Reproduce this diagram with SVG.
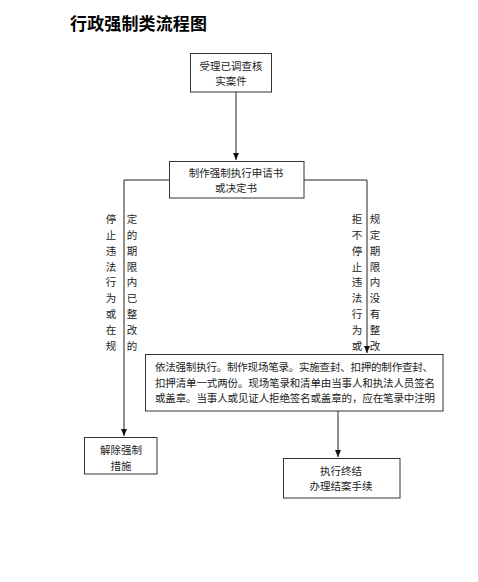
<svg xmlns="http://www.w3.org/2000/svg" width="478" height="582" viewBox="0 0 478 582">
<style>
.t{font-family:"Noto Sans CJK SC","Noto Sans CJK JP",sans-serif;font-size:10.5px;fill:#222}
.c{text-anchor:middle}
.title{font-family:"Noto Sans CJK SC",sans-serif;font-size:17px;font-weight:bold;fill:#000}
.box{fill:#fff;stroke:#333;stroke-width:1}
.ln{fill:none;stroke:#222;stroke-width:1}
</style>
<defs>
<marker id="ah" markerWidth="8" markerHeight="8" refX="7" refY="4" orient="auto" markerUnits="userSpaceOnUse">
<path d="M0,1 L7,4 L0,7 Z" fill="#111"/>
</marker>
</defs>
<rect width="478" height="582" fill="#fff"/>
<text class="title" x="70" y="30" textLength="137">行政强制类流程图</text>
<g id="connectors">
<line class="ln" x1="236" y1="92" x2="236" y2="160" marker-end="url(#ah)"/>
<polyline class="ln" points="169,180 124,180 124,436" marker-end="url(#ah)"/>
<polyline class="ln" points="304,180 367,180 367,353" marker-end="url(#ah)"/>
<line class="ln" x1="338" y1="411" x2="338" y2="457" marker-end="url(#ah)"/>
</g>
<g id="n1">
<rect class="box" x="190.5" y="53.5" width="81" height="38.5"/>
<text class="t c" x="231" y="70">受理已调查核</text>
<text class="t c" x="231" y="85">实案件</text>
</g>
<g id="n2">
<rect class="box" x="169.5" y="161.5" width="134.5" height="36.5"/>
<text class="t c" x="236" y="177">制作强制执行申请书</text>
<text class="t c" x="236" y="192">或决定书</text>
</g>
<g id="lbl-left">
<text class="t c" x="111" y="223">停</text>
<text class="t c" x="111" y="239">止</text>
<text class="t c" x="111" y="255">违</text>
<text class="t c" x="111" y="271">法</text>
<text class="t c" x="111" y="286">行</text>
<text class="t c" x="111" y="302">为</text>
<text class="t c" x="111" y="318">或</text>
<text class="t c" x="111" y="334">在</text>
<text class="t c" x="111" y="350">规</text>
<text class="t c" x="132" y="223">定</text>
<text class="t c" x="132" y="239">的</text>
<text class="t c" x="132" y="255">期</text>
<text class="t c" x="132" y="271">限</text>
<text class="t c" x="132" y="286">内</text>
<text class="t c" x="132" y="302">已</text>
<text class="t c" x="132" y="318">整</text>
<text class="t c" x="132" y="334">改</text>
<text class="t c" x="132" y="350">的</text>
</g>
<g id="lbl-right">
<text class="t c" x="357" y="223">拒</text>
<text class="t c" x="357" y="239">不</text>
<text class="t c" x="357" y="255">停</text>
<text class="t c" x="357" y="271">止</text>
<text class="t c" x="357" y="286">违</text>
<text class="t c" x="357" y="302">法</text>
<text class="t c" x="357" y="318">行</text>
<text class="t c" x="357" y="334">为</text>
<text class="t c" x="357" y="350">或</text>
<text class="t c" x="375" y="223">规</text>
<text class="t c" x="375" y="239">定</text>
<text class="t c" x="375" y="255">期</text>
<text class="t c" x="375" y="271">限</text>
<text class="t c" x="375" y="286">内</text>
<text class="t c" x="375" y="302">没</text>
<text class="t c" x="375" y="318">有</text>
<text class="t c" x="375" y="334">整</text>
<text class="t c" x="375" y="350">改</text>
</g>
<g id="n3">
<rect class="box" x="145.5" y="354.5" width="297.5" height="56.5"/>
<text class="t" x="155" y="371" textLength="278" lengthAdjust="spacing">依法强制执行。制作现场笔录。实施查封、扣押的制作查封、</text>
<text class="t" x="155" y="387" textLength="280" lengthAdjust="spacing">扣押清单一式两份。现场笔录和清单由当事人和执法人员签名</text>
<text class="t" x="155" y="402" textLength="280" lengthAdjust="spacing">或盖章。当事人或见证人拒绝签名或盖章的，应在笔录中注明</text>
</g>
<g id="n4">
<rect class="box" x="84.5" y="437.5" width="72.5" height="36.5"/>
<text class="t c" x="121" y="454">解除强制</text>
<text class="t c" x="121" y="470">措施</text>
</g>
<g id="n5">
<rect class="box" x="283.5" y="458.5" width="116.5" height="39.5"/>
<text class="t c" x="341" y="475">执行终结</text>
<text class="t c" x="341" y="490">办理结案手续</text>
</g>
</svg>
